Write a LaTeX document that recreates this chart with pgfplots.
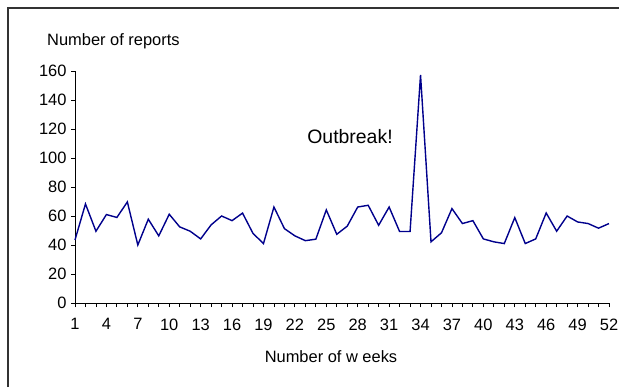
\documentclass[border=0pt]{standalone}
\usepackage{pgfplots}
\pgfplotsset{compat=1.18}
\usepackage{fontspec}
\setmainfont{Liberation Sans}
\definecolor{navyline}{RGB}{0,0,140}
\definecolor{framegray}{RGB}{50,50,50}
\begin{document}
\begin{tikzpicture}[x=1bp,y=1bp]
\path[use as bounding box] (0,0) rectangle (619,387);
\draw[framegray, line width=2bp] (8,0) -- (8,379) -- (619,379);
\begin{axis}[
  at={(75bp,84bp)}, anchor=origin,
  scale only axis,
  width=534bp, height=232bp,
  xmin=1, xmax=52, ymin=0, ymax=160,
  axis x line*=bottom, axis y line*=left,
  axis line style={black, line width=0.8bp, -},
  xtick={1,4,...,52},
  minor xtick={1,2,...,52},
  ytick={0,20,...,160},
  tick align=outside,
  major tick length=4bp, minor tick length=4bp,
  every tick/.style={black, line width=0.8bp},
  tick label style={font=\fontsize{16.5}{18}\selectfont},
  /pgf/number format/assume math mode=true,
  xticklabel style={yshift=-8bp},
  yticklabel style={xshift=-1bp},
  clip=false,
]
\addplot[navyline, line width=1.4bp, mark=none] coordinates {
(1,43.5) (2,68.3) (3,49.5) (4,61) (5,59) (6,69.7) (7,40) (8,57.8) (9,46.3) (10,61.2)
(11,52.5) (12,49.5) (13,44.2) (14,53.9) (15,60) (16,56.8) (17,62) (18,48) (19,41) (20,66.2)
(21,51.3) (22,46.3) (23,43) (24,44) (25,64.2) (26,47.4) (27,53) (28,66.2) (29,67.4) (30,53.6)
(31,66.2) (32,49.3) (33,49.3) (34,157.3) (35,42.2) (36,48.4) (37,65.1) (38,54.8) (39,56.8) (40,44.2)
(41,42.2) (42,41) (43,58.9) (44,41) (45,44.2) (46,62.1) (47,49.5) (48,60) (49,55.9) (50,54.8)
(51,51.6) (52,54.8)
};
\end{axis}
\node[anchor=base west, font=\fontsize{16.5}{18}\selectfont, inner sep=0] at (47,342) {Number of reports};
\node[anchor=base, font=\fontsize{16.5}{18}\selectfont, inner sep=0] at (331,25) {Number of w eeks};
\node[anchor=base, font=\fontsize{19.5}{22}\selectfont, inner sep=0] at (350,244) {Outbreak!};
\end{tikzpicture}
\end{document}
